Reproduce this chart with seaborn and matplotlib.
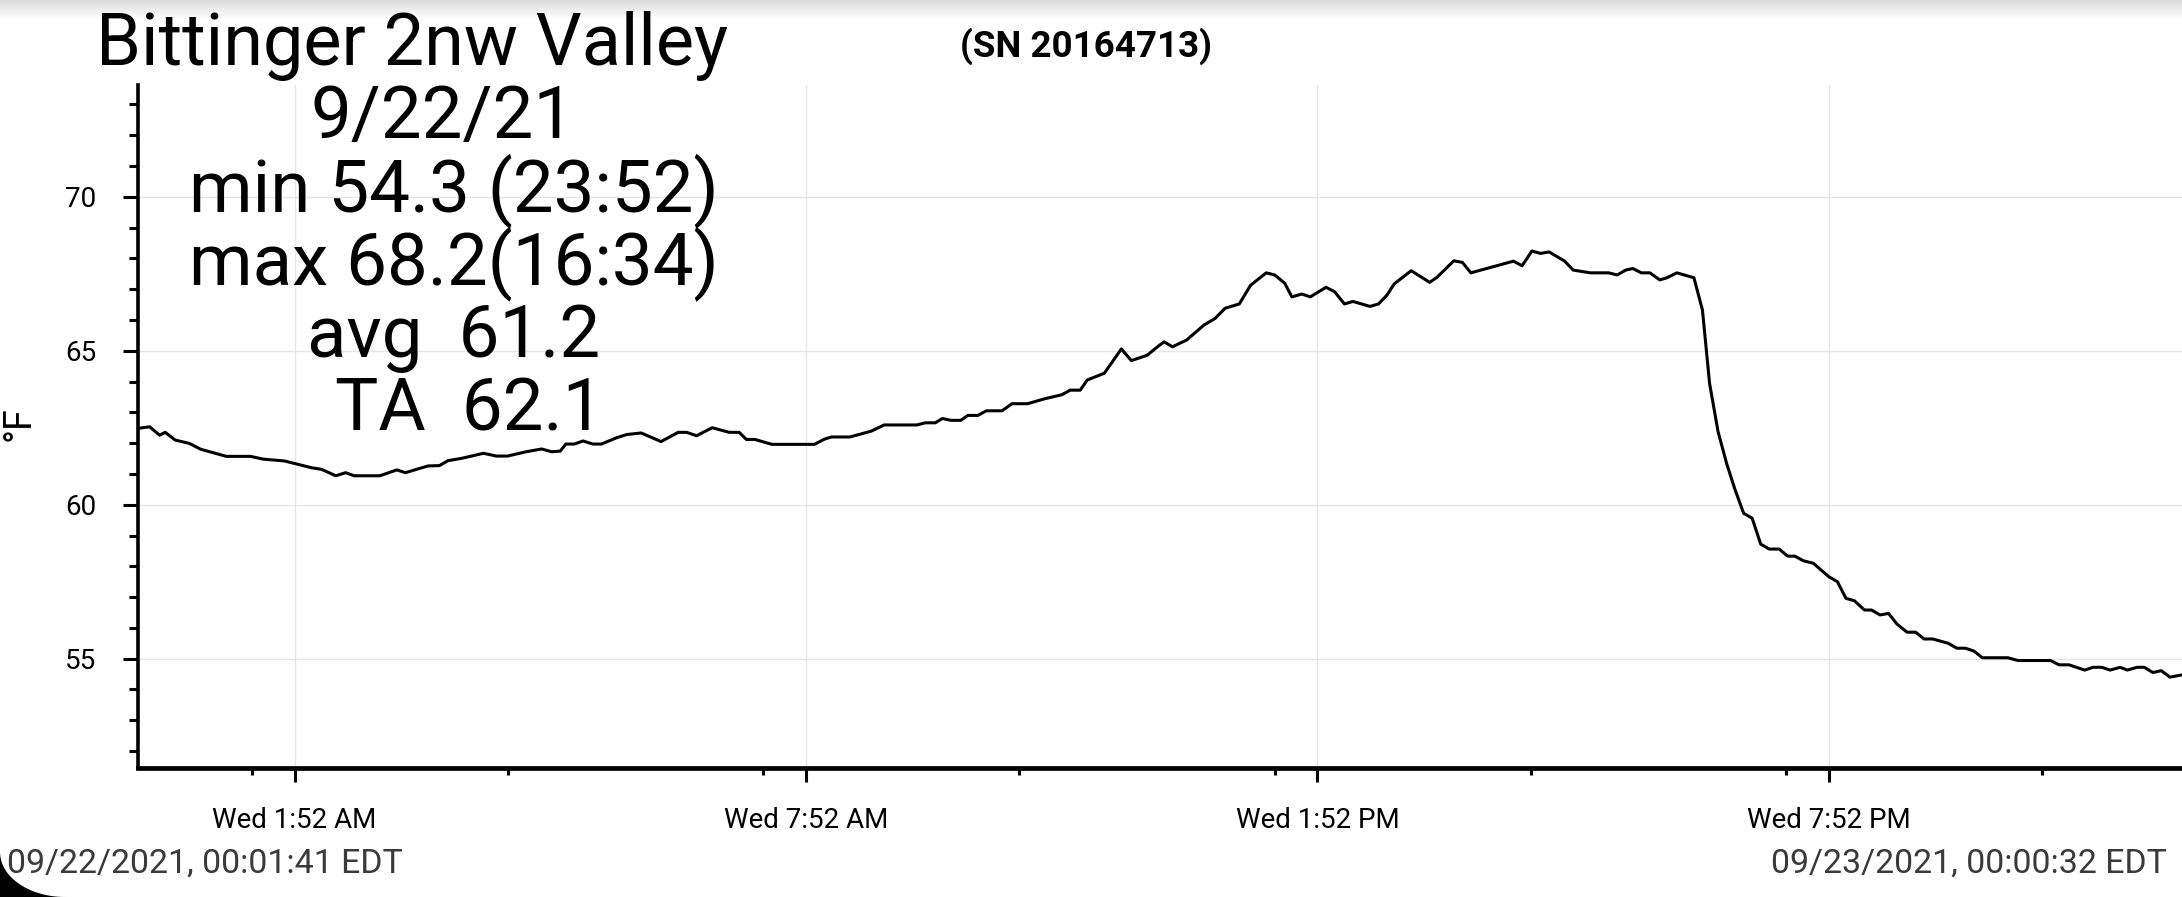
import numpy as np
import pandas as pd
import matplotlib
matplotlib.use("Agg")
import matplotlib.pyplot as plt
from matplotlib.patches import Polygon
import seaborn as sns

# ---- data (clock time on 9/22/21, deg F) ----
times = [
    "00:02", "00:10", "00:17", "00:21", "00:28", "00:38", "00:46", "01:04", "01:21", "01:30",
    "01:45", "02:04", "02:11", "02:21", "02:28", "02:34", "02:52", "03:04", "03:10", "03:26",
    "03:34", "03:40", "03:50", "04:05", "04:14", "04:22", "04:35", "04:46", "04:53", "04:59",
    "05:03", "05:09", "05:15", "05:22", "05:28", "05:39", "05:46", "05:56", "06:10", "06:22",
    "06:28", "06:35", "06:46", "06:58", "07:05", "07:10", "07:16", "07:28", "07:58", "08:05",
    "08:10", "08:23", "08:38", "08:47", "09:10", "09:16", "09:23", "09:28", "09:34", "09:41",
    "09:46", "09:53", "09:59", "10:10", "10:17", "10:28", "10:40", "10:52", "10:58", "11:05",
    "11:10", "11:22", "11:34", "11:41", "11:52", "12:00", "12:04", "12:10", "12:20", "12:32",
    "12:40", "12:47", "12:57", "13:05", "13:16", "13:22", "13:29", "13:34", "13:41", "13:47",
    "13:58", "14:04", "14:11", "14:17", "14:29", "14:35", "14:41", "14:46", "14:58", "15:11",
    "15:16", "15:28", "15:34", "15:40", "16:10", "16:16", "16:23", "16:29", "16:35", "16:46",
    "16:52", "17:04", "17:17", "17:23", "17:29", "17:34", "17:40", "17:46", "17:53", "17:58",
    "18:05", "18:17", "18:23", "18:28", "18:34", "18:40", "18:46", "18:52", "18:58", "19:04",
    "19:10", "19:17", "19:23", "19:28", "19:34", "19:41", "19:52", "19:58", "20:04", "20:10",
    "20:17", "20:22", "20:28", "20:34", "20:40", "20:47", "20:53", "20:59", "21:05", "21:16",
    "21:22", "21:28", "21:34", "21:40", "21:58", "22:05", "22:28", "22:34", "22:41", "22:52",
    "22:58", "23:04", "23:10", "23:17", "23:22", "23:29", "23:34", "23:40", "23:46", "23:52",
    "24:00",
]
temps = [
    62.48, 62.53, 62.26, 62.35, 62.10, 61.99, 61.80, 61.57, 61.57, 61.48,
    61.42, 61.20, 61.15, 60.94, 61.04, 60.94, 60.94, 61.13, 61.04, 61.26,
    61.27, 61.43, 61.51, 61.67, 61.58, 61.58, 61.72, 61.81, 61.72, 61.74,
    61.97, 61.97, 62.07, 61.97, 61.97, 62.18, 62.28, 62.33, 62.05, 62.35,
    62.35, 62.24, 62.50, 62.35, 62.35, 62.12, 62.12, 61.96, 61.96, 62.13,
    62.20, 62.20, 62.39, 62.59, 62.59, 62.66, 62.66, 62.80, 62.74, 62.74,
    62.90, 62.90, 63.05, 63.05, 63.28, 63.28, 63.44, 63.57, 63.72, 63.72,
    64.05, 64.27, 65.06, 64.68, 64.85, 65.15, 65.29, 65.13, 65.35, 65.83,
    66.05, 66.38, 66.52, 67.13, 67.53, 67.46, 67.19, 66.75, 66.84, 66.75,
    67.06, 66.92, 66.52, 66.60, 66.44, 66.52, 66.81, 67.17, 67.60, 67.22,
    67.38, 67.92, 67.87, 67.53, 67.91, 67.76, 68.24, 68.16, 68.21, 67.91,
    67.62, 67.53, 67.53, 67.46, 67.62, 67.67, 67.53, 67.53, 67.30, 67.37,
    67.53, 67.37, 66.32, 63.94, 62.37, 61.34, 60.48, 59.72, 59.56, 58.72,
    58.56, 58.56, 58.33, 58.33, 58.18, 58.10, 57.66, 57.50, 56.96, 56.88,
    56.58, 56.58, 56.42, 56.47, 56.12, 55.86, 55.86, 55.64, 55.64, 55.50,
    55.34, 55.34, 55.25, 55.03, 55.03, 54.94, 54.94, 54.80, 54.80, 54.63,
    54.72, 54.72, 54.63, 54.72, 54.63, 54.72, 54.72, 54.55, 54.61, 54.40,
    54.47,
]
major_times = ["01:52", "07:52", "13:52", "19:52"]
major_labels = ["Wed 1:52 AM", "Wed 7:52 AM", "Wed 1:52 PM", "Wed 7:52 PM"]
minor_times = ["01:22", "04:22", "07:22", "10:22", "13:22", "16:22", "19:22", "22:22"]
y_major = [55, 60, 65, 70]
y_minor = list(range(52, 74))

title = "Bittinger 2nw Valley"
serial = "(SN 20164713)"
stats_lines = ["9/22/21", "min 54.3 (23:52)", "max 68.2(16:34)", "avg  61.2", "TA  62.1"]
start_label = "09/22/2021, 00:01:41 EDT"
end_label = "09/23/2021, 00:00:32 EDT"

base = pd.Timestamp("2021-09-22")


def to_ts(s):
    h, m = map(int, s.split(":"))
    return base + pd.Timedelta(minutes=h * 60 + m)


df = pd.DataFrame({"time": [to_ts(s) for s in times], "temp": temps})

W, H = 2182, 897
sns.set_style("white")
plt.rcParams["font.family"] = ["Roboto", "DejaVu Sans"]
plt.rcParams["text.color"] = "black"
plt.rcParams["axes.labelcolor"] = "black"
plt.rcParams["xtick.color"] = "black"
plt.rcParams["ytick.color"] = "black"

fig = plt.figure(figsize=(W / 100, H / 100), dpi=100)
ax = fig.add_axes([137.8 / W, 128.7 / H, 1 - 137.8 / W, (812 - 128.7) / H])

sns.lineplot(data=df, x="time", y="temp", color="black", linewidth=2.2, ax=ax)

ax.set_xlim(base + pd.Timedelta(seconds=101), base + pd.Timedelta(days=1, seconds=32))
ax.set_ylim(51.44, 73.63)

ax.set_xticks([to_ts(s) for s in major_times])
ax.set_xticklabels(major_labels)
ax.set_xticks([to_ts(s) for s in minor_times], minor=True)
ax.set_yticks(y_major)
ax.set_yticklabels([str(v) for v in y_major])
ax.set_yticks(y_minor, minor=True)

ax.tick_params(axis="x", which="major", length=10, width=2.2, pad=18, labelsize=20, direction="out", bottom=True)
ax.tick_params(axis="x", which="minor", length=5, width=2.2, direction="out", bottom=True)
ax.tick_params(axis="y", which="major", length=11, width=2.2, pad=19, labelsize=20, direction="out", left=True)
ax.tick_params(axis="y", which="minor", length=6.5, width=2.2, direction="out", left=True)

ax.grid(True, which="major", color="#e6e6e6", linewidth=1)
ax.set_axisbelow(True)
for side in ["top", "right"]:
    ax.spines[side].set_visible(False)
ax.spines["left"].set_linewidth(2.6)
ax.spines["bottom"].set_linewidth(3.4)
ax.spines["left"].set_color("black")
ax.spines["bottom"].set_color("black")

ax.set_xlabel("")
ax.set_ylabel("°F", fontsize=27, rotation=90)
ax.yaxis.set_label_coords((38 - 137.8) / (W - 137.8), 0.504)


def ftext(x, y, s, **kw):
    fig.text(x / W, 1 - y / H, s, **kw)


ftext(96, 65, title, fontsize=51.8, ha="left", va="baseline")
ftext(1086, 57, serial, fontsize=26.5, fontweight="bold", ha="center", va="baseline")

stat_x = [443, 454, 454, 454, 469]
stat_y = [138, 211, 284, 357, 430]
for sx, sy, s in zip(stat_x, stat_y, stats_lines):
    ftext(sx, sy, s, fontsize=52.3, ha="center", va="baseline")

ftext(7, 873, start_label, fontsize=24.4, color="#3a3a3a", ha="left", va="baseline")
ftext(2167, 873, end_label, fontsize=24.4, color="#3a3a3a", ha="right", va="baseline")

# screenshot artefacts: grey shade on top edge and rounded black corner
shade = fig.add_axes([0, 1 - 20 / H, 1, 20 / H])
shade.imshow(np.linspace(0.86, 1.0, 20).reshape(-1, 1), cmap="gray", vmin=0, vmax=1,
             aspect="auto", extent=[0, 1, 0, 1])
shade.axis("off")

ang = np.linspace(np.pi, 1.5 * np.pi, 30)
cx, cy, rx, ry = 65, 852, 65, 45
pts = [(0, H)] + [(cx + rx * np.cos(a), cy - ry * np.sin(a)) for a in ang]
fig.patches.append(Polygon([(px / W, 1 - py / H) for px, py in pts], closed=True,
                           transform=fig.transFigure, facecolor="black", edgecolor="none"))

fig.savefig("out.png", dpi=100)
